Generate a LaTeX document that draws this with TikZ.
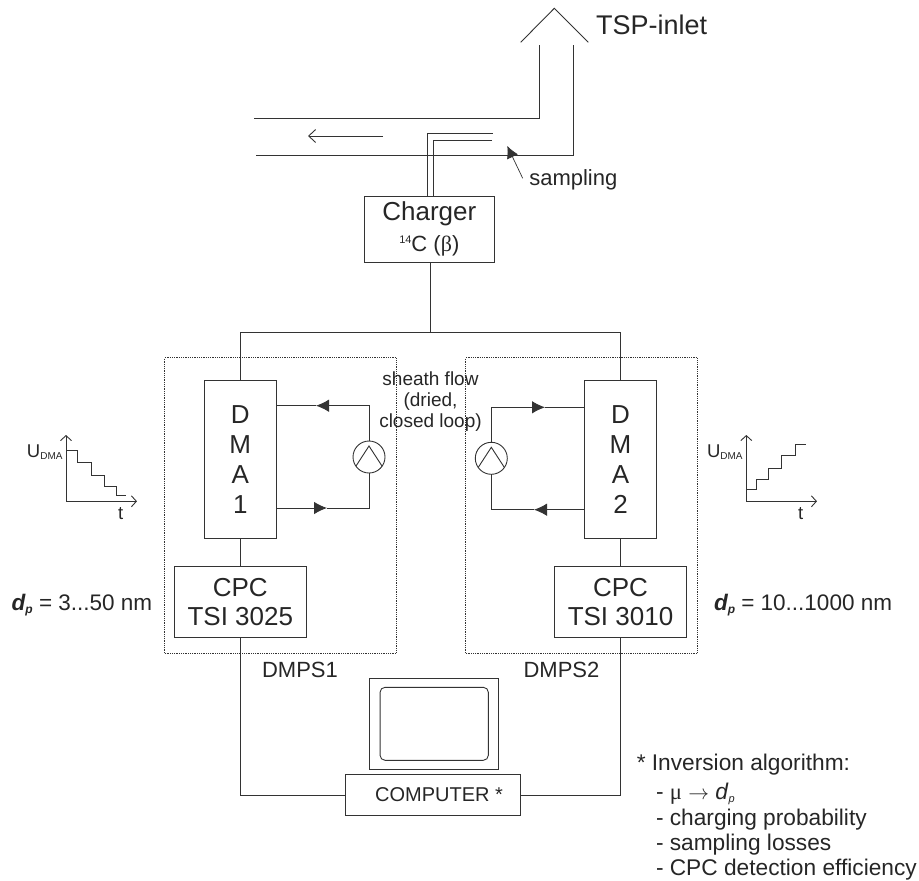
\documentclass[tikz,border=0pt]{standalone}
\usepackage{fontspec}
\setmainfont{Liberation Sans}
\newfontfamily\symbfont{Liberation Serif}
\usepackage{xcolor}
\usetikzlibrary{arrows.meta,positioning,calc}
\newcommand{\fsize}[1]{\fontsize{#1}{#1}\selectfont}
\newcommand{\dpsub}{{\bfseries\itshape d\raisebox{-3pt}{\fsize{12}p}}}
\newcommand{\udma}{U\raisebox{-2.5pt}{\fsize{10}DMA}}

\begin{document}
\begin{tikzpicture}[
    x=1pt, y=-1pt,
    >={Latex[length=13pt,width=12.5pt]},
    every node/.style={inner sep=0pt, outer sep=0pt, text=black!85},
    line/.style={draw=black!80, line width=0.9pt},
    block/.style={draw=black!80, rectangle, line width=0.9pt, align=center, font=\fsize{26}, text depth=0pt},
    dmabox/.style={block, minimum width=72pt, minimum height=158.7pt},
    cpcbox/.style={block, minimum width=132pt, minimum height=71.7pt},
    dmps/.style={draw=black!80, densely dotted, line width=0.8pt, rectangle, minimum width=231.5pt, minimum height=295.6pt},
    pump/.style={draw=black!80, circle, line width=0.9pt, minimum size=32pt, fill=white},
    axis/.style={line, -{Straight Barb[length=5pt,width=11pt]}},
    lab/.style={font=\fsize{22.5}, anchor=base west},
    inv/.style={font=\fsize{22.7}, anchor=base west}
]
\useasboundingbox (0,0) rectangle (919,881);

% --- Dotted groups ---
\node[dmps] (dmps1) at (280.5,505.5) {};
\node[dmps] (dmps2) at (581.6,505.5) {};
\node[font=\fsize{22}] at (300,670) {DMPS1};
\node[font=\fsize{22}] at (561.5,670) {DMPS2};

% --- Inlet and sampling line ---
\coordinate (roofl) at (520.7,42.3);
\coordinate (roofr) at (588.3,42.3);
\coordinate (apex) at (554.3,8.3);
\draw[line] (roofl) -- (apex) -- (roofr);
\draw[line] (539,45) |- (254,118);
\draw[line] (573,45) |- (255.6,155);
\draw[line, -{Straight Barb[length=7pt,width=13pt]}] (383,136) -- (308,136);
\node[anchor=west, font=\fsize{27}] (tsp) at (596,25) {TSP-inlet};
\node[anchor=west, font=\fsize{22}] (samp) at (529.3,180) {sampling};
\draw[line, line width=0.7pt, -{Latex[length=12pt,width=12pt]}] (522.7,178.3) -- (507.3,146);

% --- Charger ---
\node[block, minimum width=130pt, minimum height=66.4pt] (charger) at (429.3,229.5) {};
\node[font=\fsize{26}] at (429.3,214) {Charger};
\node[font=\fsize{22}] at (429.3,246) {\raisebox{8pt}{\fsize{11}14}C ({\symbfont β})};
\coordinate (probeo) at (492.7,133.3);
\coordinate (probei) at (492,140.3);
\draw[line, line width=0.7pt] (probeo) -| (427.3,196.3);
\draw[line, line width=0.7pt] (probei) -| (433.3,196.3);

% --- DMA + CPC columns ---
\node[dmabox] (dma1) at (240.3,459.3) {D\\[4pt]M\\[4pt]A\\[4pt]1};
\node[dmabox] (dma2) at (620.5,459.3) {D\\[4pt]M\\[4pt]A\\[4pt]2};
\node[cpcbox, below=27.3pt of dma1] (cpc1) {CPC\\[3pt]TSI 3025};
\node[cpcbox, below=27.3pt of dma2] (cpc2) {CPC\\[3pt]TSI 3010};
\coordinate (split) at (430.3,332);
\draw[line] (charger.south -| split) -- (split);
\draw[line] (dma1.north) -- (dma1.north |- split) -- (dma2.north |- split) -- (dma2.north);
\draw[line] (dma1.south) -- (cpc1.north);
\draw[line] (dma2.south) -- (cpc2.north);

% --- Sheath flow loops ---
\node[pump] (pump1) at (369,457) {};
\node[pump] (pump2) at (491.3,458.3) {};
\draw[line] (pump1.215) -- ($(pump1)+(0,-11)$) -- (pump1.325);
\draw[line] (pump2.215) -- ($(pump2)+(0,-11)$) -- (pump2.325);
\draw[line, ->] (pump1.north) |- (316,405.7);
\draw[line] (316,405.7) -- (276.3,405.7);
\draw[line, ->] (276.3,508) -- (327,508);
\draw[line] (327,508) -| (pump1.south);
\draw[line, ->] (pump2.north) |- (545,407.3);
\draw[line] (545,407.3) -- (584.3,407.3);
\draw[line, ->] (584.3,509.7) -- (534,509.7);
\draw[line] (534,509.7) -| (pump2.south);
\node[align=center, font=\fsize{19}] (sheath) at (430.5,402) {sheath flow\\[2pt](dried,\\[2pt]closed loop)};

% --- Voltage steps ---
\coordinate (orig1) at (66,501.3);
\draw[axis] (orig1) -- (66,435);
\draw[axis] (orig1) -- (137,501.3);
\draw[line, line width=0.7pt] (66,450) -| (77.7,462.3) -| (91,475.3) -| (104.3,486) -| (116.7,495.7) -- (126,495.7);
\node[lab, font=\fsize{18.5}] at (27,457) {\udma};
\node[font=\fsize{18.5}] at (120.7,514) {t};
\coordinate (orig2) at (746.3,501.3);
\draw[axis] (orig2) -- (746.3,435);
\draw[axis] (orig2) -- (817,501.3);
\draw[line, line width=0.7pt] (746.3,489.3) -| (756,479.3) -| (768.3,468.3) -| (781.7,455.3) -| (795,444) -- (806.3,444);
\node[lab, font=\fsize{18.5}] at (707,457) {\udma};
\node[font=\fsize{18.5}] at (800.7,514) {t};
\node[lab] at (11.7,610.7) {\dpsub{} = 3...50 nm};
\node[lab] at (714,610.7) {\dpsub{} = 10...1000 nm};

% --- Computer ---
\node[draw=black!80, line width=0.9pt, minimum width=128.8pt, minimum height=91pt] (monitor) at (433.8,723.8) {};
\node[draw=black!80, line width=0.9pt, rounded corners=5pt, minimum width=108.3pt, minimum height=73pt] (screen) at (434.2,723.8) {};
\node[draw=black!80, line width=0.9pt, minimum width=175.3pt, minimum height=41pt] (computer) at (432.9,795.2) {};
\node[font=\fsize{20}] at (439,795) {COMPUTER *};
\draw[line] (cpc1.south) |- (computer.west);
\draw[line] (cpc2.south) |- (computer.east);

% --- Inversion notes ---
\node[inv] at (636.8,770) {* Inversion algorithm:};
\node[inv] at (656,799) {- {\symbfont μ} $\rightarrow$ \textit{d}\raisebox{-3pt}{\fsize{11}\itshape p}};
\node[inv] at (656,825) {- charging probability};
\node[inv] at (656,850) {- sampling losses};
\node[inv] at (656,875) {- CPC detection efficiency};
\end{tikzpicture}
\end{document}
